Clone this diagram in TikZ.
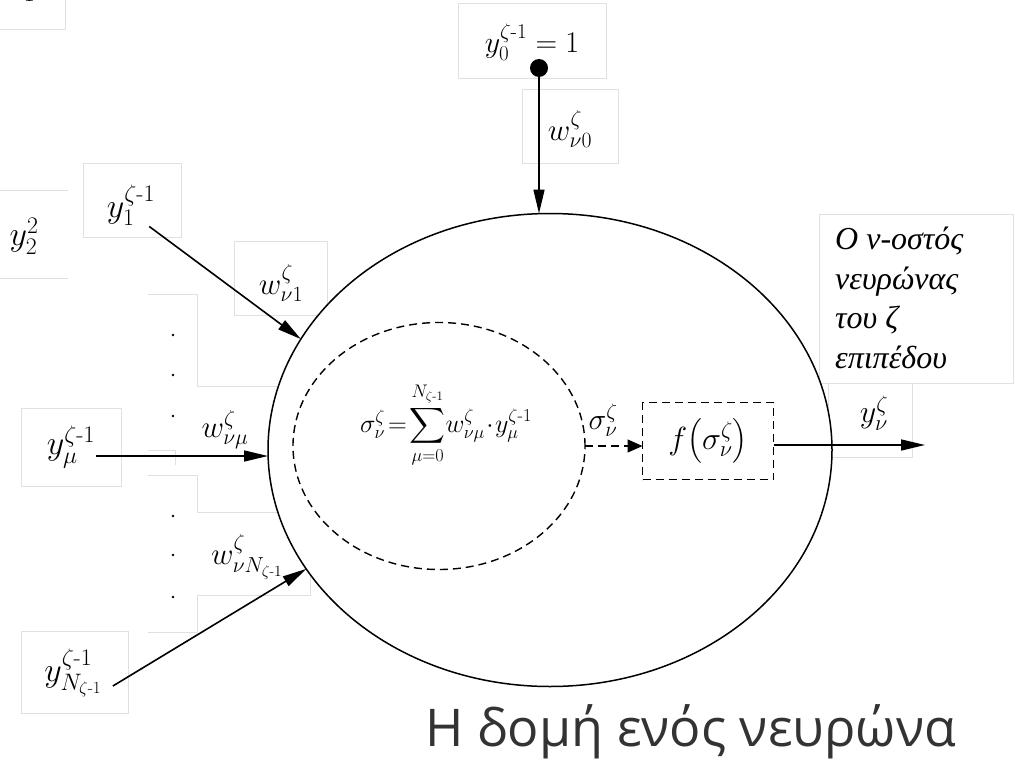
\RequirePackage{fix-cm}
\documentclass[tikz,border=0pt]{standalone}
\usepackage{amsmath}
\usepackage{fontspec}
\newfontfamily\grserif{Liberation Serif}
\newfontfamily\grsans{Open Sans}
\usetikzlibrary{arrows.meta, positioning}
\usetikzlibrary{shapes.geometric}

\definecolor{framegrey}{HTML}{E0E0E0}
\definecolor{capgrey}{HTML}{333333}
\newcommand{\zm}{\zeta\text{-}1}

\tikzset{
  ghost/.style={draw=framegrey, line width=0.9pt},
  syn/.style={-{Triangle[length=24pt,width=11pt]}, line width=1.6pt},
  ylbl/.style={font=\fontsize{34}{40}\selectfont, inner sep=1pt},
  wlbl/.style={font=\fontsize{31}{36}\selectfont, inner sep=1pt},
  dash box/.style={draw, dash pattern=on 8pt off 5pt, line width=1.4pt},
}

\begin{document}
\begin{tikzpicture}[x=1pt, y=-1pt]
\useasboundingbox (0,0) rectangle (1015,760);

% faint frames of the original text boxes
\draw[ghost] (0,29) -- (65,29) -- (65,0);
\draw[ghost] (0,190) -- (68,190);
\draw[ghost] (0,278) -- (68,278);
\draw[ghost] (83,163) rectangle (181,237);
\draw[ghost] (458,3) rectangle (606,78);
\draw[ghost] (522,89) rectangle (618,163);
\draw[ghost] (234,241) rectangle (327,315);
\draw[ghost] (148,294) -- (197,294) -- (197,386) -- (300,386);
\draw[ghost] (148,450) -- (175,450) -- (175,465);
\draw[ghost] (21,408) rectangle (121,486);
\draw[ghost] (148,475) -- (197,475) -- (197,512) -- (300,512);
\draw[ghost] (148,632) -- (197,632) -- (197,595) -- (310,595) -- (310,560);
\draw[ghost] (21,631) rectangle (128,713);
\draw[ghost] (819,214) rectangle (1013,383);
\draw[ghost] (828,383) rectangle (912,457);

% the neuron
\node[ellipse, draw, fill=white, line width=1.5pt, inner sep=0pt, outer sep=0pt,
  minimum width=564pt, minimum height=473pt] (neuron) at (550,450) {};
\node[ellipse, dash box, inner sep=0pt, outer sep=0pt,
  minimum width=292pt, minimum height=247pt] (adder) at (439,446) {};
\node[font=\fontsize{26}{30}\selectfont, inner sep=0pt] (sumeq) at (446,425)
  {$\sigma_\nu^\zeta\!=\!\displaystyle\sum_{\mu=0}^{N_{\zm}}\! w_{\nu\mu}^\zeta\!\cdot\! y_\mu^{\zm}$};
\node[dash box, outer sep=0pt, minimum width=131pt, minimum height=77pt,
  font=\fontsize{32}{36}\selectfont] (act) at (708,441) {$f\bigl(\sigma_\nu^\zeta\bigr)$};
\node[font=\fontsize{30}{34}\selectfont, inner sep=0pt] (sig) at (603,420) {$\sigma_\nu^\zeta$};
\draw[dash pattern=on 8pt off 5pt, line width=1.4pt, -{Triangle[length=15pt,width=13pt]}]
  (adder.east) -- (adder.east -| act.west);

% bias input
\node[font=\fontsize{30}{34}\selectfont] (bias) at (532,42) {$y_0^{\zm}=1$};
\node[circle, fill, inner sep=0pt, minimum size=18pt] (biasdot) at (539,68) {};
\node[wlbl] (wzero) at (570,129) {$w_{\nu0}^\zeta$};
\draw[syn] (biasdot) -- (biasdot |- neuron.north);

% inputs
\node[ylbl] (yfrag) at (22,-17) {$y_1^2$};
\node[ylbl] (ytwo) at (24,236) {$y_2^2$};
\node[ylbl] (yone) at (131,205) {$y_1^{\zm}$};
\node[wlbl] (wone) at (281,283) {$w_{\nu1}^\zeta$};
\draw[syn] ([xshift=-7pt]yone.south east) -- (neuron.156.6);

\node[ylbl] (ymu) at (71,447) {$y_\mu^{\zm}$};
\node[wlbl] (wmu) at (225,430) {$w_{\nu\mu}^\zeta$};
\draw[syn] ([yshift=-9pt]ymu.east) -- ([yshift=-6pt]neuron.west);

\node[ylbl] (yN) at (73,673) {$y_{N_{\zm}}^{\zm}$};
\node[wlbl] (wN) at (247,557) {$w_{\nu N_{\zm}}^\zeta$};
\draw[syn] ([xshift=10pt,yshift=-13pt]yN.east) -- (neuron.206.9);

\foreach \y in {335,375,416,516,555,597}
  \fill (173,\y) circle (1.3pt);

% output
\coordinate (out) at (925,445);
\draw[syn] (act.east |- out) -- (out);
\node[font=\fontsize{32}{36}\selectfont] (yout) at (874,413) {$y_\nu^\zeta$};
% the last line sits on the given baseline
\node[anchor=base west, align=left, inner sep=0pt,
  font=\grserif\itshape\fontsize{32}{39.5}\selectfont] (note) at (835,368)
  {Ο ν-οστός\\νευρώνας\\του ζ\\επιπέδου};

\node[anchor=base, inner sep=0pt, text=capgrey,
  font=\grsans\fontsize{52}{60}\selectfont] (title) at (691,746) {Η δομή ενός νευρώνα};
\end{tikzpicture}
\end{document}
